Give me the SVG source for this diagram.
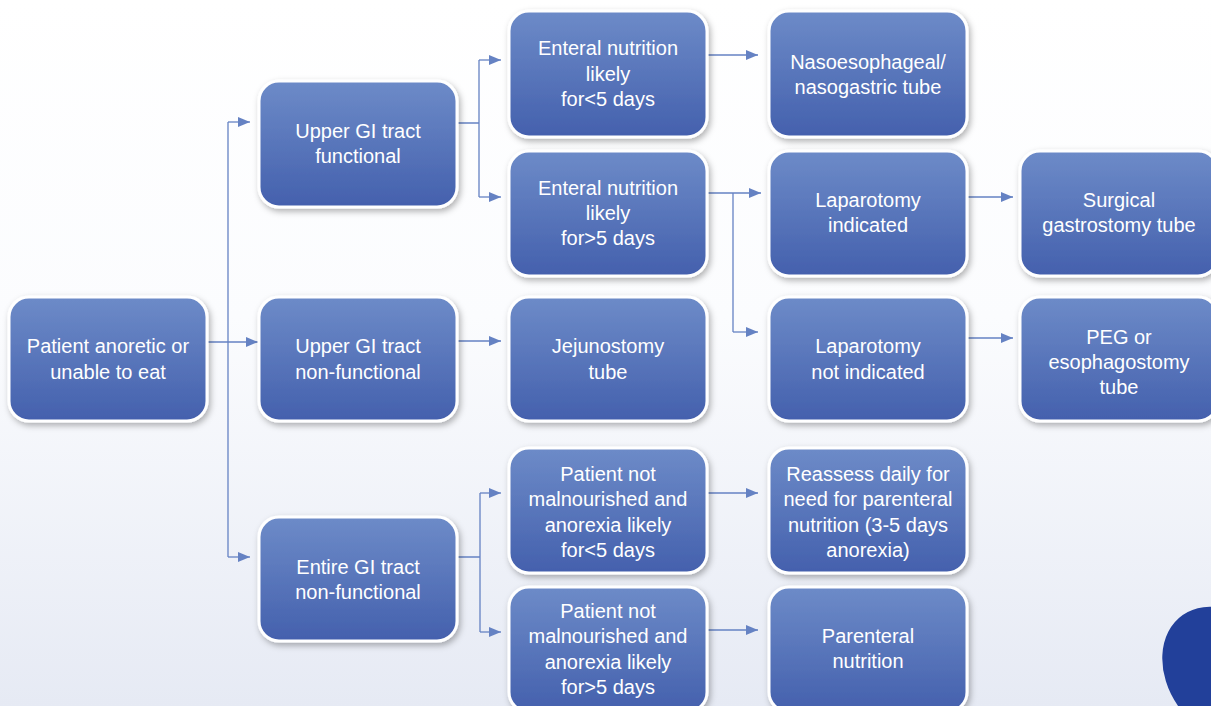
<svg xmlns="http://www.w3.org/2000/svg" width="1211" height="706" viewBox="0 0 1211 706">
<defs>
<linearGradient id="bg" x1="0" y1="0" x2="0" y2="1">
<stop offset="0" stop-color="#ffffff"/>
<stop offset="0.45" stop-color="#fbfcfe"/>
<stop offset="1" stop-color="#e6eaf4"/>
</linearGradient>
<linearGradient id="ng" x1="0" y1="0" x2="0" y2="1">
<stop offset="0" stop-color="#6d8bc8"/>
<stop offset="1" stop-color="#4460ad"/>
</linearGradient>
<filter id="sh" x="-20%" y="-20%" width="140%" height="140%">
<feDropShadow dx="2" dy="3" stdDeviation="3" flood-color="#000" flood-opacity="0.3"/>
</filter>
<marker id="ah" viewBox="0 0 12 10" refX="12" refY="5" markerWidth="13" markerHeight="10" markerUnits="userSpaceOnUse" orient="auto">
<path d="M0,0 L12,5 L0,10 Z" fill="#6582c3"/>
</marker>
<style>
.n rect{fill:url(#ng);stroke:#fff;stroke-width:3;filter:url(#sh)}
.n text{fill:#fff;font-family:"Liberation Sans",Arial,sans-serif;font-size:20px;text-anchor:middle}
.c path{fill:none;stroke:#6582c3;stroke-width:1.3}
.c .a{marker-end:url(#ah)}
</style>
</defs>
<rect x="0" y="0" width="1211" height="706" fill="url(#bg)"/>
<ellipse cx="1224" cy="674" rx="56" ry="72" transform="rotate(-35 1224 674)" fill="#22409a"/>

<g id="connectors" class="c">
<path class="a" d="M207,342 H258"/>
<path d="M228,122 V557"/>
<path class="a" d="M228,122 H250"/>
<path class="a" d="M228,557 H250"/>
<path d="M457,123 H479 M479,60 V197"/>
<path class="a" d="M479,60 H501"/>
<path class="a" d="M479,197 H501"/>
<path class="a" d="M707,55 H758"/>
<path class="a" d="M707,193 H761"/>
<path d="M733,193 V332"/>
<path class="a" d="M733,332 H758"/>
<path class="a" d="M967,197 H1013"/>
<path class="a" d="M967,338 H1013"/>
<path class="a" d="M457,341 H501"/>
<path d="M457,557 H480 M480,493 V632"/>
<path class="a" d="M480,493 H501"/>
<path class="a" d="M480,632 H501"/>
<path class="a" d="M707,493 H758"/>
<path class="a" d="M707,630 H758"/>
</g>

<g id="n-patient" class="n"><rect x="9" y="297" width="198" height="124" rx="20"/><text x="108" y="353">Patient anoretic or</text><text x="108" y="379">unable to eat</text></g>
<g id="n-upper-func" class="n"><rect x="259" y="81" width="198" height="126" rx="20"/><text x="358" y="138">Upper GI tract</text><text x="358" y="163">functional</text></g>
<g id="n-upper-nonfunc" class="n"><rect x="259" y="297" width="198" height="124" rx="20"/><text x="358" y="353">Upper GI tract</text><text x="358" y="379">non-functional</text></g>
<g id="n-entire" class="n"><rect x="259" y="517" width="198" height="124" rx="20"/><text x="358" y="574">Entire GI tract</text><text x="358" y="599">non-functional</text></g>
<g id="n-enteral-lt5" class="n"><rect x="509" y="11" width="198" height="126" rx="20"/><text x="608" y="55">Enteral nutrition</text><text x="608" y="81">likely</text><text x="608" y="106">for&lt;5 days</text></g>
<g id="n-enteral-gt5" class="n"><rect x="509" y="151" width="198" height="125" rx="20"/><text x="608" y="195">Enteral nutrition</text><text x="608" y="220">likely</text><text x="608" y="245">for&gt;5 days</text></g>
<g id="n-jejuno" class="n"><rect x="509" y="297" width="198" height="124" rx="20"/><text x="608" y="353">Jejunostomy</text><text x="608" y="379">tube</text></g>
<g id="n-notmal-lt5" class="n"><rect x="509" y="448" width="198" height="125" rx="20"/><text x="608" y="481">Patient not</text><text x="608" y="506">malnourished and</text><text x="608" y="532">anorexia likely</text><text x="608" y="557">for&lt;5 days</text></g>
<g id="n-notmal-gt5" class="n"><rect x="509" y="587" width="198" height="125" rx="20"/><text x="608" y="618">Patient not</text><text x="608" y="643">malnourished and</text><text x="608" y="669">anorexia likely</text><text x="608" y="694">for&gt;5 days</text></g>
<g id="n-naso" class="n"><rect x="769" y="11" width="198" height="126" rx="20"/><text x="868" y="69">Nasoesophageal/</text><text x="868" y="94">nasogastric tube</text></g>
<g id="n-lap-ind" class="n"><rect x="769" y="151" width="198" height="125" rx="20"/><text x="868" y="207">Laparotomy</text><text x="868" y="232">indicated</text></g>
<g id="n-lap-notind" class="n"><rect x="769" y="297" width="198" height="124" rx="20"/><text x="868" y="353">Laparotomy</text><text x="868" y="379">not indicated</text></g>
<g id="n-reassess" class="n"><rect x="769" y="448" width="198" height="125" rx="20"/><text x="868" y="481">Reassess daily for</text><text x="868" y="506">need for parenteral</text><text x="868" y="532">nutrition (3-5 days</text><text x="868" y="557">anorexia)</text></g>
<g id="n-parenteral" class="n"><rect x="769" y="587" width="198" height="125" rx="20"/><text x="868" y="643">Parenteral</text><text x="868" y="668">nutrition</text></g>
<g id="n-surgical" class="n"><rect x="1020" y="151" width="198" height="125" rx="20"/><text x="1119" y="207">Surgical</text><text x="1119" y="232">gastrostomy tube</text></g>
<g id="n-peg" class="n"><rect x="1020" y="297" width="198" height="124" rx="20"/><text x="1119" y="344">PEG or</text><text x="1119" y="369">esophagostomy</text><text x="1119" y="394">tube</text></g>
</svg>
